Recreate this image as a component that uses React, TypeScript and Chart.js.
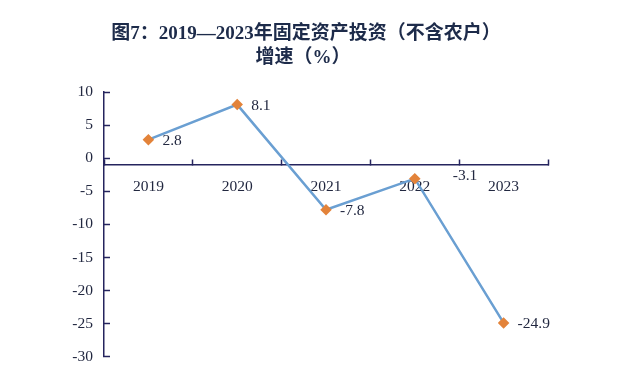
import React, { useEffect, useRef } from "react";
import { Chart, registerables } from "chart.js";

Chart.register(...registerables);

const categories = ["2019", "2020", "2021", "2022", "2023"];
const growth = [2.8, 8.1, -7.8, -3.1, -24.9];
const titleLines = ["图7：2019—2023年固定资产投资（不含农户）", "增速（%）"];
const yMin = -30;
const yMax = 10;
const yStep = 5;
const axisCross = -1;

const AXIS_COLOR = "#25245e";
const TEXT_COLOR = "#222840";

const titlePlugin = {
  id: "customTitle",
  afterDraw(chart: any) {
    const ctx = chart.ctx;
    ctx.save();
    ctx.fillStyle = "#1d2b4a";
    ctx.font = "bold 19px 'Liberation Serif', 'Noto Sans CJK SC', serif";
    ctx.textAlign = "center";
    ctx.textBaseline = "middle";
    ctx.fillText(titleLines[0], 306, 34);
    ctx.fillText(titleLines[1], 303, 58);
    ctx.restore();
  },
};

const labelPlugin = {
  id: "pointLabels",
  afterDatasetsDraw(chart: any) {
    const ctx = chart.ctx;
    const meta = chart.getDatasetMeta(0);
    ctx.save();
    ctx.fillStyle = TEXT_COLOR;
    ctx.font = "15.5px 'Liberation Serif', serif";
    ctx.textAlign = "left";
    ctx.textBaseline = "middle";
    meta.data.forEach((pt: any, i: number) => {
      const v = growth[i];
      const dx = i === 3 ? 38 : 14;
      const dy = i === 3 ? -3 : 1;
      ctx.fillText(String(v), pt.x + dx, pt.y + dy);
    });
    ctx.restore();
  },
};

export default function App() {
  const ref = useRef<HTMLCanvasElement>(null);
  useEffect(() => {
    if (!ref.current) return;
    const chart = new Chart(ref.current, {
      type: "line",
      data: {
        labels: categories,
        datasets: [
          {
            data: growth,
            borderColor: "#6a9fd2",
            borderWidth: 2.5,
            pointStyle: "rectRot",
            pointRadius: 4,
            pointBackgroundColor: "#e3833a",
            pointBorderColor: "#e3833a",
            tension: 0,
          },
        ],
      },
      options: {
        animation: false,
        responsive: false,
        layout: { padding: { top: 92, right: 85, bottom: 24, left: 0 } },
        plugins: {
          legend: { display: false },
          tooltip: { enabled: false },
          title: { display: false },
        },
        scales: {
          x: {
            type: "category",
            offset: true,
            position: { y: axisCross } as any,
            grid: {
              offset: true,
              drawOnChartArea: false,
              drawTicks: true,
              tickLength: -6,
              tickWidth: 1.5,
              tickColor: AXIS_COLOR,
            },
            border: { display: true, color: AXIS_COLOR, width: 1.5 },
            ticks: {
              color: TEXT_COLOR,
              font: { family: "'Liberation Serif', serif", size: 15.5 },
              padding: 19,
              maxRotation: 0,
            },
          },
          y: {
            min: yMin,
            max: yMax,
            afterFit: (scale: any) => {
              scale.width = 104;
            },
            grid: {
              drawOnChartArea: false,
              drawTicks: true,
              tickLength: -6,
              tickWidth: 1.5,
              tickColor: AXIS_COLOR,
            },
            border: { display: true, color: AXIS_COLOR, width: 1.5 },
            ticks: {
              stepSize: yStep,
              color: TEXT_COLOR,
              font: { family: "'Liberation Serif', serif", size: 15.5 },
              padding: 17,
            },
          },
        },
      },
      plugins: [titlePlugin, labelPlugin],
    });
    return () => chart.destroy();
  }, []);
  return (
    <div style={{ position: "fixed", left: 0, top: 0, width: 633, height: 383, background: "#fff" }}>
      <canvas ref={ref} width={633} height={383} style={{ width: 633, height: 383 }} />
    </div>
  );
}
